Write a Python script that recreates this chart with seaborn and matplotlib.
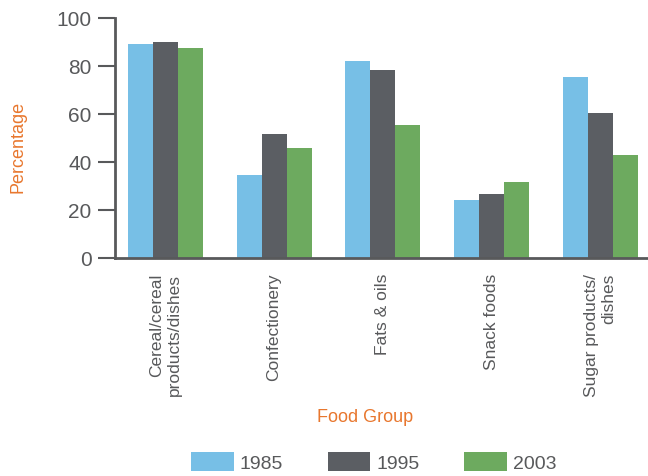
import pandas as pd
import seaborn as sns
import matplotlib.pyplot as plt
from matplotlib.patches import Patch

# data
groups = ['Cereal/cereal\nproducts/dishes', 'Confectionery', 'Fats & oils',
          'Snack foods', 'Sugar products/\ndishes']
years = ['1985', '1995', '2003']
v1985 = [89, 34.5, 82, 24, 75.5]
v1995 = [90, 51.5, 78.5, 26.5, 60.5]
v2003 = [87.5, 46, 55.5, 31.5, 43]

colors = ['#77BFE6', '#5B5E63', '#6DAA5F']
grey = '#58595B'
orange = '#E8772E'

df = pd.DataFrame({
    'group': groups * 3,
    'year': [y for y in years for _ in groups],
    'value': v1985 + v1995 + v2003,
})

sns.set_style('white')
plt.rcParams['font.family'] = ['Liberation Sans', 'DejaVu Sans']

fig = plt.figure(figsize=(6.48, 4.77), dpi=100)
ax = fig.add_axes([115 / 648, 1 - 259 / 477, 1 - 115 / 648, 240 / 477])

sns.barplot(data=df, x='group', y='value', hue='year', palette=colors,
            width=0.69, gap=0, linewidth=0, saturation=1, ax=ax, legend=False)

ax.set_xlim(-0.464, 4.44)
ax.set_ylim(0, 100)
ax.set_yticks([0, 20, 40, 60, 80, 100])

for s in ['top', 'right']:
    ax.spines[s].set_visible(False)
for s in ['left', 'bottom']:
    ax.spines[s].set_color(grey)
    ax.spines[s].set_linewidth(2)

ax.tick_params(axis='y', left=True, length=12, width=1.5, color=grey,
               labelsize=15, labelcolor=grey, pad=5)
ax.tick_params(axis='x', bottom=False, labelsize=12.5, labelcolor=grey, pad=7)
for lab in ax.get_xticklabels():
    lab.set_rotation(90)
    lab.set_ha('center')
    lab.set_va('top')
    lab.set_multialignment('right')

ax.set_ylabel('Percentage', color=orange, fontsize=13)
ax.yaxis.set_label_coords((18 - 115) / 533, 0.467)
ax.yaxis.label.set_va('center')
ax.set_xlabel('Food Group', color=orange, fontsize=13)
ax.xaxis.set_label_coords((365 - 115) / 533, -0.6625)
ax.xaxis.label.set_va('center')

handles = [Patch(facecolor=c, edgecolor='none') for c in colors]
fig.legend(handles, years, loc='center', ncol=3, frameon=False,
           bbox_to_anchor=(373.5 / 648, 14 / 477), fontsize=14,
           labelcolor=grey, handlelength=2.2, handleheight=1.1,
           handletextpad=0.3, columnspacing=2.3, borderpad=0)

fig.savefig('out.png', dpi=100)
